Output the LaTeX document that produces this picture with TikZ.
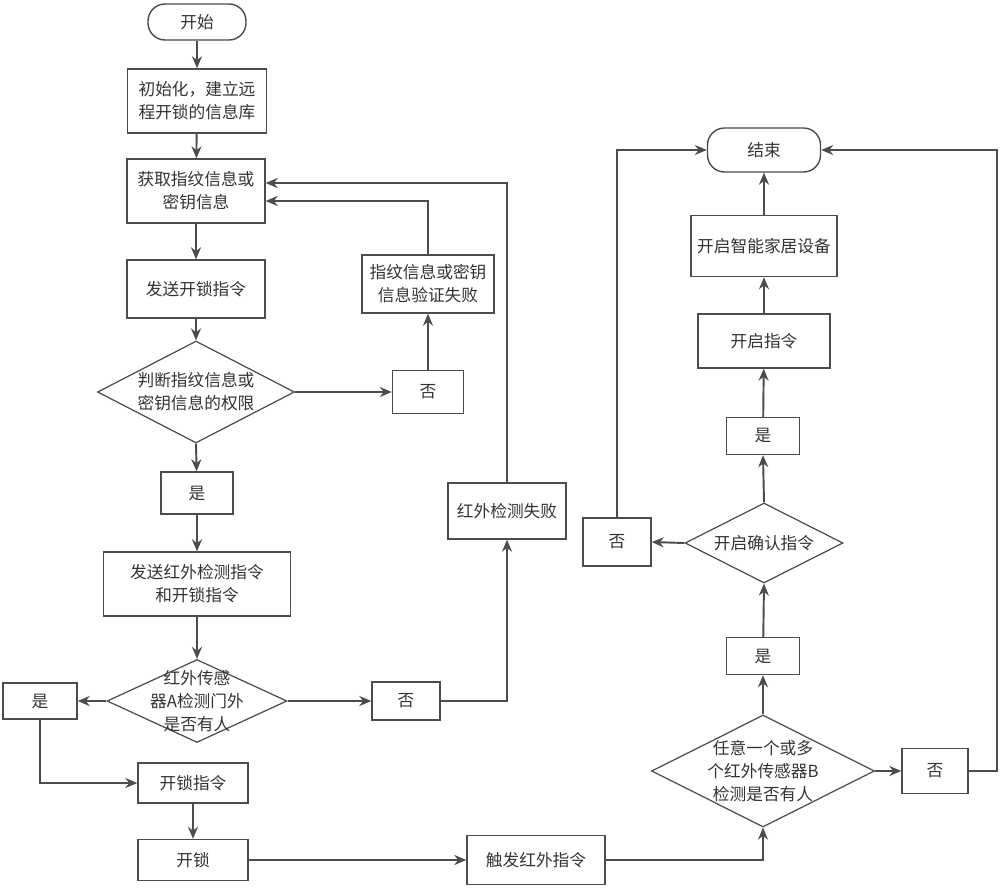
\documentclass[tikz,border=0pt]{standalone}
\usepackage{fontspec}
\setmainfont{Noto Sans CJK SC}
\usetikzlibrary{arrows.meta, shapes.geometric, positioning}

\begin{document}
\begin{tikzpicture}[
    x=0.02cm, y=-0.02cm,
    font=\fontsize{9.5}{13}\selectfont,
    % --- styles ---
    box/.style={
            draw=black!70,
            line width=0.8pt,
            align=center,
            text=black!80,
            inner sep=2pt
        },
    term/.style={
            box,
            rounded corners=0.34cm
        },
    dia/.style={
            diamond,
            draw=black!70,
            line width=0.7pt,
            inner sep=0pt
        },
    diaText/.style={
            align=center,
            text=black!80
        },
    flow/.style={
            -{Stealth[length=2.4mm, width=2mm]},
            line width=1.1pt,
            draw=black!70
        }
    ]

    \useasboundingbox (0,0) rectangle (1000,889);

    % 1. left column: fingerprint / key check
    \node[term, minimum width=1.96cm, minimum height=0.72cm] (start) at (197,22) {开始};
    \node[box, minimum width=2.78cm, minimum height=1.28cm] (init) at (197,101) {初始化，建立远\\程开锁的信息库};
    \node[box, minimum width=2.76cm, minimum height=1.28cm] (get) at (196,191) {获取指纹信息或\\密钥信息};
    \node[box, minimum width=2.76cm, minimum height=1.16cm] (sendUnlock) at (196,289) {发送开锁指令};
    \node[dia, minimum width=3.94cm, minimum height=2.04cm,
        label={[diaText]center:判断指纹信息或\\密钥信息的权限}] (judge) at (196,392) {};
    \node[box, minimum width=1.42cm, minimum height=0.86cm] (no1) at (428,392) {否};
    \node[box, minimum width=2.64cm, minimum height=1.16cm] (fail1) at (428,284) {指纹信息或密钥\\信息验证失败};
    \node[box, minimum width=1.44cm, minimum height=0.84cm] (yes1) at (197,493) {是};
    \node[box, minimum width=3.74cm, minimum height=1.28cm] (sendIR) at (197,584) {发送红外检测指令\\和开锁指令};

    % 2. infrared sensor A
    \node[dia, minimum width=3.6cm, minimum height=1.66cm,
        label={[diaText]center:红外传感\\器A检测门外\\是否有人}] (diaA) at (197,701) {};
    \node[box, minimum width=1.48cm, minimum height=0.72cm] (yesA) at (40,701) {是};
    \node[box, minimum width=1.36cm, minimum height=0.76cm] (noA) at (406,701) {否};
    \node[box, minimum width=2.36cm, minimum height=1.12cm] (failIR) at (507,511) {红外检测失败};
    \node[box, minimum width=2.2cm, minimum height=0.8cm] (unlockCmd) at (193,783) {开锁指令};
    \node[box, minimum width=2.2cm, minimum height=0.82cm] (unlock) at (193,860) {开锁};
    \node[box, minimum width=2.76cm, minimum height=0.98cm] (trigger) at (536,860) {触发红外指令};

    % 3. right column: infrared sensor B and smart home
    \node[dia, minimum width=4.46cm, minimum height=2.24cm,
        label={[diaText]center:任意一个或多\\个红外传感器B\\检测是否有人}] (diaB) at (763,771) {};
    \node[box, minimum width=1.32cm, minimum height=0.9cm] (noB) at (935,771) {否};
    \node[box, minimum width=1.46cm, minimum height=0.74cm] (yesB) at (763,656) {是};
    \node[dia, minimum width=3.16cm, minimum height=1.6cm,
        label={[diaText]center:开启确认指令}] (confirm) at (764,543) {};
    \node[box, minimum width=1.36cm, minimum height=0.96cm] (noC) at (617,542) {否};
    \node[box, minimum width=1.46cm, minimum height=0.74cm] (yesC) at (763,436) {是};
    \node[box, minimum width=2.64cm, minimum height=1.08cm] (openCmd) at (764,341) {开启指令};
    \node[box, minimum width=2.92cm, minimum height=1.22cm] (openDev) at (764,246) {开启智能家居设备};
    \node[term, minimum width=2.26cm, minimum height=0.88cm] (end) at (764,150) {结束};
    \coordinate (rightTurn) at (997,771);

    % 4. connectors
    \draw[flow] (start) -- (init);
    \draw[flow] (init) -- (get);
    \draw[flow] (get) -- (sendUnlock);
    \draw[flow] (sendUnlock) -- (judge);
    \draw[flow] (judge.east) -- (no1.west);
    \draw[flow] (no1) -- (fail1);
    \draw[flow] (fail1.north) |- ([yshift=-0.2cm]get.east);
    \draw[flow] (judge.south) -- (yes1);
    \draw[flow] (yes1) -- (sendIR);
    \draw[flow] (sendIR) -- (diaA.north);
    \draw[flow] (diaA.east) -- (noA.west);
    \draw[flow] (noA.east) -| (failIR.south);
    \draw[flow] (failIR.north) |- ([yshift=0.16cm]get.east);
    \draw[flow] (diaA.west) -- (yesA.east);
    \draw[flow] (yesA.south) |- (unlockCmd.west);
    \draw[flow] (unlockCmd) -- (unlock);
    \draw[flow] (unlock) -- (trigger);
    \draw[flow] (trigger.east) -| (diaB.south);
    \draw[flow] (diaB.east) -- (noB.west);
    \draw[flow] (noB.east) -- (rightTurn) |- (end.east);
    \draw[flow] (diaB.north) -- (yesB.south);
    \draw[flow] (yesB) -- (confirm.south);
    \draw[flow] (confirm.west) -- (noC.east);
    \draw[flow] (noC.north) |- (end.west);
    \draw[flow] (confirm.north) -- (yesC.south);
    \draw[flow] (yesC) -- (openCmd);
    \draw[flow] (openCmd) -- (openDev);
    \draw[flow] (openDev) -- (end);

\end{tikzpicture}
\end{document}
